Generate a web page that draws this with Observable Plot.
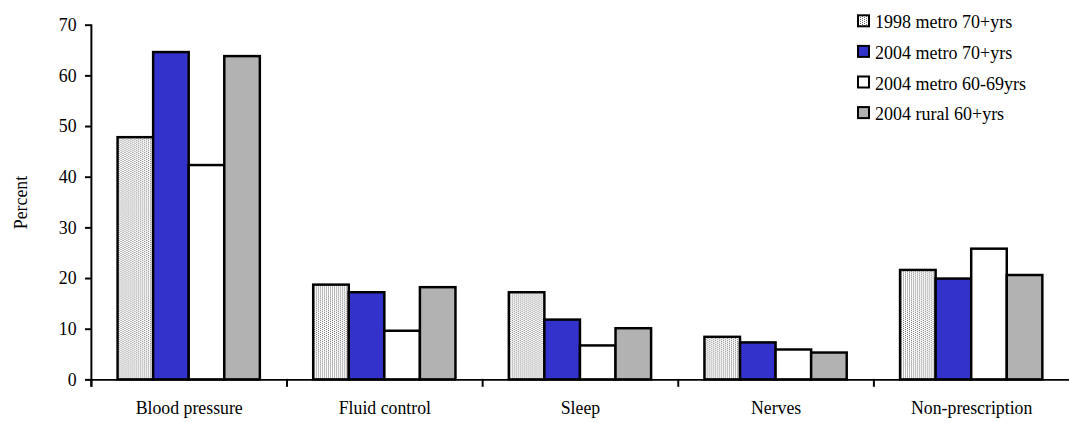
<!DOCTYPE html>
<html>
<head>
<meta charset="utf-8">
<script src="https://cdn.jsdelivr.net/npm/d3@7"></script>
<script src="https://cdn.jsdelivr.net/npm/@observablehq/plot@0.6"></script>
<style>
  html, body { margin: 0; padding: 0; background: #fff; overflow: hidden; }
  #wrap { position: relative; width: 1070px; height: 423px; overflow: hidden; font-family: "Liberation Serif", "Times New Roman", serif; }
  #legend { position: absolute; left: 850px; top: 0px; }
  #chart { position: absolute; left: 0; top: 0; }
</style>
</head>
<body>
<div id="wrap">
  <div id="chart"></div>
  <svg id="legend" width="220" height="135"></svg>
</div>
<script>
const categories = ["Blood pressure", "Fluid control", "Sleep", "Nerves", "Non-prescription"];
const series = ["1998 metro 70+yrs", "2004 metro 70+yrs", "2004 metro 60-69yrs", "2004 rural 60+yrs"];
const metro1998_70 = [47.8, 18.7, 17.2, 8.4, 21.6];
const metro2004_70 = [64.6, 17.2, 11.8, 7.3, 19.9];
const metro2004_6069 = [42.3, 9.6, 6.7, 5.9, 25.8];
const rural2004_60 = [63.8, 18.2, 10.1, 5.3, 20.6];
const yTicks = [0, 10, 20, 30, 40, 50, 60, 70];
const fills = ["url(#dots)", "#3333cc", "#ffffff", "#b2b2b2"];

const seriesValues = [metro1998_70, metro2004_70, metro2004_6069, rural2004_60];
const data = [];
categories.forEach((c, i) => {
  series.forEach((s, j) => data.push({category: c, series: s, value: seriesValues[j][i]}));
});

// legend (holds the stipple pattern definition used by the bars too)
const leg = d3.select("#legend");
const pat = leg.append("defs").append("pattern")
  .attr("id", "dots").attr("patternUnits", "userSpaceOnUse")
  .attr("width", 4).attr("height", 2);
pat.append("rect").attr("width", 4).attr("height", 2).attr("fill", "#ffffff");
pat.append("rect").attr("x", 0).attr("y", 0).attr("width", 1).attr("height", 1).attr("fill", "#6e6e6e");
pat.append("rect").attr("x", 2).attr("y", 1).attr("width", 1).attr("height", 1).attr("fill", "#6e6e6e");

series.forEach((s, j) => {
  const base = 28.3 + j * 30.6;
  leg.append("rect").attr("x", 8).attr("y", base - 13).attr("width", 11).attr("height", 11)
    .attr("fill", fills[j]).attr("stroke", "#000").attr("stroke-width", 2);
  leg.append("text").attr("x", 25).attr("y", base)
    .attr("font-family", "Liberation Serif").attr("font-size", 18).attr("fill", "#000").text(s);
});

const chart = Plot.plot({
  width: 1083,
  height: 423,
  marginLeft: 90,
  marginRight: 0,
  marginTop: 25,
  marginBottom: 39,
  style: {fontFamily: "Liberation Serif", fontSize: "18px", color: "#000", background: "transparent"},
  fx: {domain: categories, padding: 0, label: null},
  x: {domain: series, paddingInner: 0, paddingOuter: 0.734, axis: null},
  y: {domain: [0, 70], axis: null},
  color: {domain: series, range: fills},
  marks: [
    Plot.barY(data, {fx: "category", x: "series", y: "value", fill: "series", stroke: "#000", strokeWidth: 2.5}),
    Plot.ruleY([0], {stroke: "#000", strokeWidth: 2}),
    Plot.frame({anchor: "left", insetTop: 359, insetBottom: -6, stroke: "#000", strokeWidth: 2}),
    Plot.frame({anchor: "left", facet: "super", insetBottom: -6, stroke: "#000", strokeWidth: 2}),
    Plot.axisY({ticks: yTicks, tickSize: 6, tickPadding: 9, strokeWidth: 2, label: "Percent", labelAnchor: "center", labelArrow: "none", labelOffset: 78}),
    Plot.axisFx({anchor: "bottom", tickSize: 0, tickPadding: 22, label: null})
  ]
});
document.getElementById("chart").appendChild(chart);
</script>
</body>
</html>
